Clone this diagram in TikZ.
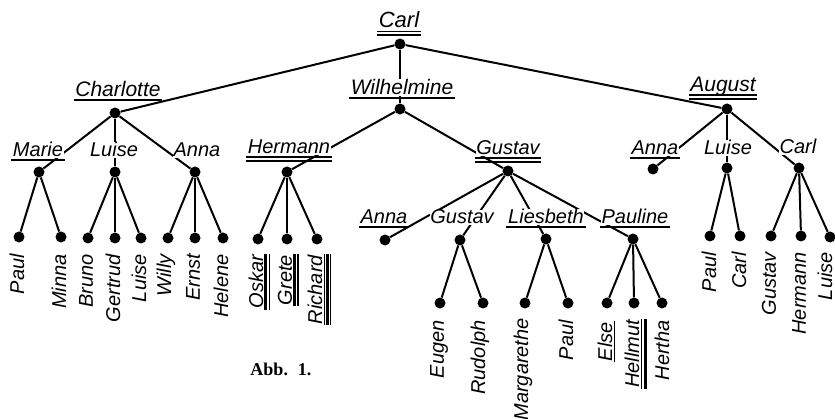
\documentclass[tikz,border=0pt]{standalone}
\usepackage{fontspec}
\setmainfont{Liberation Sans}
\newfontfamily\capfont{Liberation Serif}
\usetikzlibrary{calc}

\tikzset{
  link/.style={line width=2pt},
  knot/.style={circle, fill=black, inner sep=0pt, minimum size=11pt},
  lbl/.style={font=\fontsize{20}{24}\selectfont\itshape, fill=white, inner sep=0.5pt, anchor=base},
  biglbl/.style={lbl, font=\fontsize{21}{25}\selectfont\itshape},
  leaf/.style={font=\fontsize{20}{24}\selectfont\itshape, inner sep=0pt, rotate=90, anchor=east},
  rthin/.style={line width=1.3pt},
  rbar/.style={line width=2.8pt},
}

% underline rules below a horizontal label: list of offset/style
\newcommand{\ulh}[2]{\foreach \o/\s in {#2}{\draw[\s] ($(#1.base west)+(-1,\o)$) -- ($(#1.base east)+(1,\o)$);}}
% underline rules beside an upright (rotated) label
\newcommand{\ulv}[2]{\foreach \o/\s in {#2}{\draw[\s] ($(#1.base west)+(\o,1)$) -- ($(#1.base east)+(\o,-1)$);}}

\begin{document}
\begin{tikzpicture}[x=1pt,y=-1pt]
\clip (0,0) rectangle (835,419);
\fill[white] (0,0) rectangle (835,419);

% --- dots ---
\node[knot] (root) at (400,44) {};
\node[knot] (cha) at (115,113) {};
\node[knot] (wil) at (400,109) {};
\node[knot] (aug) at (727,109) {};
% children of Charlotte
\node[knot] (mar) at (39,172) {};
\node[knot] (lui) at (115,172) {};
\node[knot] (ann) at (195,172) {};
% children of Wilhelmine
\node[knot] (her) at (287,172) {};
\node[knot] (gus) at (508,171) {};
% children of August
\node[knot] (aan) at (653,169) {};
\node[knot] (alu) at (727,168) {};
\node[knot] (aca) at (799,168) {};
% children of Gustav
\node[knot] (gan) at (385,240) {};
\node[knot] (ggu) at (460,240) {};
\node[knot] (gli) at (546,239) {};
\node[knot] (gpa) at (633,239) {};
% grandchildren
\node[knot] (paul1) at (19,237) {};
\node[knot] (minna) at (61,237) {};
\node[knot] (bruno) at (88,238) {};
\node[knot] (gert) at (115,238) {};
\node[knot] (luise1) at (141,238) {};
\node[knot] (willy) at (168,238) {};
\node[knot] (ernst) at (195,238) {};
\node[knot] (helene) at (223,238) {};
\node[knot] (oskar) at (258,239) {};
\node[knot] (grete) at (287,239) {};
\node[knot] (richard) at (317,239) {};
\node[knot] (eugen) at (440,303) {};
\node[knot] (rudolph) at (483,303) {};
\node[knot] (marg) at (525,303) {};
\node[knot] (paul2) at (568,303) {};
\node[knot] (else) at (607,303) {};
\node[knot] (hellmut) at (634,303) {};
\node[knot] (hertha) at (662,303) {};
\node[knot] (paul3) at (710,236) {};
\node[knot] (carl3) at (740,236) {};
\node[knot] (gustav3) at (771,236) {};
\node[knot] (hermann3) at (801,236) {};
\node[knot] (luise3) at (830,237) {};

% --- connectors ---
\foreach \a/\b in {root/cha, root/wil, root/aug,
  cha/mar, cha/lui, cha/ann, wil/her, wil/gus, aug/aan, aug/alu, aug/aca,
  gus/gan, gus/ggu, gus/gli, gus/gpa,
  mar/paul1, mar/minna, lui/bruno, lui/gert, lui/luise1,
  ann/willy, ann/ernst, ann/helene, her/oskar, her/grete, her/richard,
  ggu/eugen, ggu/rudolph, gli/marg, gli/paul2, gpa/else, gpa/hellmut, gpa/hertha,
  alu/paul3, alu/carl3, aca/gustav3, aca/hermann3, aca/luise3}
  \draw[link] (\a) -- (\b);

% --- horizontal names ---
\node[lbl, font=\fontsize{22}{26}\selectfont\itshape] (Nroot) at (399,28) {Carl};
\node[biglbl] (Ncha) at (118,97) {Charlotte};
\node[biglbl] (Nwil) at (402,95) {Wilhelmine};
\node[biglbl] (Naug) at (723,92) {August};
\node[lbl] (Nmar) at (38,157) {Marie};
\node[lbl] (Nlui) at (114,157) {Luise};
\node[lbl] (Nann) at (197,157) {Anna};
\node[lbl] (Nher) at (289,154) {Hermann};
\node[lbl] (Ngus) at (508,155) {Gustav};
\node[lbl] (Naan) at (655,155) {Anna};
\node[lbl] (Nalu) at (728,155) {Luise};
\node[lbl] (Naca) at (798,154) {Carl};
\node[lbl] (Ngan) at (384,224) {Anna};
\node[lbl] (Nggu) at (462,224) {Gustav};
\node[lbl] (Ngli) at (546,224) {Liesbeth};
\node[lbl] (Ngpa) at (635,224) {Pauline};

\ulh{Nroot}{3.5/rthin, 7/rthin}
\ulh{Ncha}{3/rthin}
\ulh{Nwil}{3/rthin}
\ulh{Naug}{3/rthin, 7/rbar}
\ulh{Nmar}{3/rthin}
\ulh{Nher}{3/rthin, 7/rbar}
\ulh{Ngus}{3/rthin, 7/rbar}
\ulh{Naan}{3/rthin}
\ulh{Ngan}{3/rthin}
\ulh{Ngli}{3/rthin}
\ulh{Ngpa}{3/rthin}

% --- upright names ---
\node[leaf] (Lpaul1) at (17,254) {Paul};
\node[leaf] (Lminna) at (59,254) {Minna};
\node[leaf] (Lbruno) at (86,254) {Bruno};
\node[leaf] (Lgert) at (113,254) {Gertrud};
\node[leaf] (Lluise1) at (139,254) {Luise};
\node[leaf] (Lwilly) at (166,254) {Willy};
\node[leaf] (Lernst) at (193,254) {Ernst};
\node[leaf] (Lhelene) at (221,254) {Helene};
\node[leaf] (Loskar) at (256,255) {Oskar};
\node[leaf] (Lgrete) at (285,255) {Grete};
\node[leaf] (Lrichard) at (315,255) {Richard};
\node[leaf] (Leugen) at (439,320) {Eugen};
\node[leaf] (Lrudolph) at (480,320) {Rudolph};
\node[leaf] (Lmarg) at (523,318) {Margarethe};
\node[leaf] (Lpaul2) at (566,320) {Paul};
\node[leaf] (Lelse) at (605,322) {Else};
\node[leaf] (Lhellmut) at (632,320) {Hellmut};
\node[leaf] (Lhertha) at (662,320) {Hertha};
\node[leaf] (Lpaul3) at (709,252) {Paul};
\node[leaf] (Lcarl3) at (739,252) {Carl};
\node[leaf] (Lgustav3) at (769,252) {Gustav};
\node[leaf] (Lhermann3) at (799,252) {Hermann};
\node[leaf] (Lluise3) at (825,252) {Luise};

\ulv{Loskar}{2.5/rbar, 6/rthin}
\ulv{Lgrete}{2.5/rbar, 6/rthin}
\ulv{Lrichard}{2.5/rthin, 5.5/rbar, 8.5/rthin}
\ulv{Lelse}{2.5/rthin}
\ulv{Lhellmut}{2.5/rthin, 6/rbar}

% --- caption ---
\node[font=\capfont\bfseries\fontsize{18}{21}\selectfont, anchor=base, inner sep=0pt] (cap) at (281,376) {Abb.\hspace{4pt} 1.};
\end{tikzpicture}
\end{document}
